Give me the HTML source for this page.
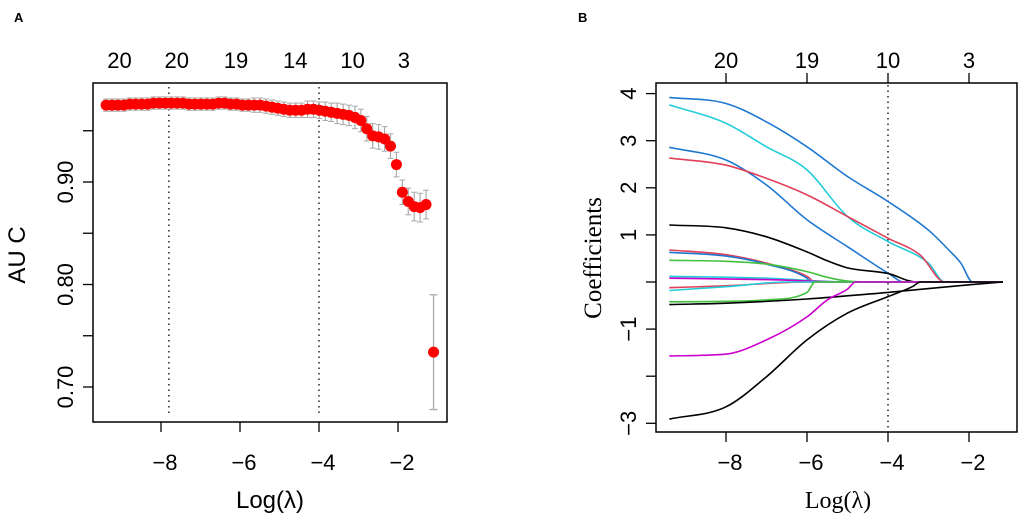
<!DOCTYPE html>
<html><head><meta charset="utf-8"><style>
body{margin:0;background:#fff;}
svg{display:block}
</style></head><body>
<svg id="chart" width="1021" height="522" xmlns="http://www.w3.org/2000/svg">
<text x="14" y="22" font-family="Liberation Sans, sans-serif" font-weight="bold" font-size="13">A</text>
<text x="578" y="22" font-family="Liberation Sans, sans-serif" font-weight="bold" font-size="13">B</text>
<g id="pa"></g>
<g id="pb"></g>
</svg>
<script>
const aucLambda = [];
const aucStart = -9.39, aucStep = 0.15;
const aucValues = [0.975,0.975,0.975,0.975,0.976,0.976,0.976,0.976,0.977,0.977,0.977,
0.977,0.977,0.977,0.976,0.976,0.976,0.976,0.976,0.977,0.977,
0.976,0.976,0.975,0.975,0.975,0.975,0.974,0.973,0.972,0.971,
0.970,0.970,0.970,0.971,0.971,0.970,0.969,0.968,0.967,0.966,
0.965,0.963,0.960,0.952,0.945,0.944,0.942,0.935,0.917,0.890,
0.881,0.876,0.875,0.878];
const aucSE = [0.006,0.006,0.006,0.006,0.006,0.006,0.006,0.006,0.006,0.006,0.006,
0.006,0.006,0.006,0.006,0.006,0.006,0.006,0.006,0.006,0.006,
0.006,0.006,0.006,0.006,0.007,0.007,0.007,0.007,0.007,0.007,
0.007,0.007,0.007,0.008,0.008,0.008,0.009,0.009,0.010,0.010,
0.010,0.011,0.011,0.012,0.012,0.012,0.012,0.012,0.012,0.012,
0.013,0.014,0.014,0.014];
for (let i=0;i<aucValues.length;i++) aucLambda.push(+(aucStart+aucStep*i).toFixed(2));
const outlierLambda = -1.1, outlierAuc = 0.734, outlierLo = 0.678, outlierHi = 0.79;
const aucXTicks = [-8,-6,-4,-2];
const aucYTicks = [0.70,0.80,0.90];
const aucYMinor = [0.75,0.85,0.95];
const aucTopLabels = ["20","20","19","14","10","3"];
const aucTopLambda = [-9.05,-7.6,-6.1,-4.6,-3.15,-1.85];
const aucVLines = [-7.8,-4.0];

const coefPaths = [
 {c:"#1f78d0", x:[-9.4,-8,-7,-6,-5,-4,-3,-2.5,-2.2,-1.91,-1.16], y:[3.92,3.79,3.4,2.87,2.24,1.71,1.10,0.68,0.4,0,0]},
 {c:"#22ccd8", x:[-9.4,-8,-7,-6,-5,-4,-3,-2.6,-1.16], y:[3.76,3.37,2.87,2.38,1.39,0.86,0.40,0,0]},
 {c:"#1f78d0", x:[-9.4,-8,-7,-6,-5,-4,-3.6,-1.16], y:[2.86,2.59,2.06,1.32,0.75,0.19,0,0]},
 {c:"#e0405a", x:[-9.4,-8,-7,-6,-5,-4,-3.2,-2.6,-1.16], y:[2.63,2.48,2.2,1.85,1.39,0.93,0.57,0,0]},
 {c:"#000000", x:[-9.4,-8,-7,-6,-5.5,-5,-4,-3.3,-1.16], y:[1.21,1.15,0.96,0.64,0.45,0.30,0.18,0,0]},
 {c:"#e0405a", x:[-9.4,-8,-7,-6,-5.8,-1.16], y:[0.68,0.58,0.4,0.12,0,0]},
 {c:"#1f78d0", x:[-9.4,-8,-7,-6,-5.9,-1.16], y:[0.63,0.55,0.38,0.08,0,0]},
 {c:"#44c040", x:[-9.4,-8,-7,-6,-5.5,-5,-4.5,-1.16], y:[0.46,0.44,0.38,0.22,0.1,0.02,0,0]},
 {c:"#22ccd8", x:[-9.4,-7,-5,-1.16], y:[0.12,0.08,0,0]},
 {c:"#cc00cc", x:[-9.4,-7,-5,-1.16], y:[0.08,0.05,0,0]},
 {c:"#e0405a", x:[-9.4,-8,-6,-1.16], y:[-0.12,-0.08,0,0]},
 {c:"#22ccd8", x:[-9.4,-8,-6.5,-1.16], y:[-0.18,-0.1,0,0]},
 {c:"#44c040", x:[-9.4,-8,-7,-6,-5.8,-1.16], y:[-0.42,-0.41,-0.38,-0.22,0,0]},
 {c:"#000000", x:[-9.4,-8,-6,-4,-2,-1.16], y:[-0.48,-0.45,-0.36,-0.22,-0.06,0]},
 {c:"#cc00cc", x:[-9.4,-8,-7,-6,-5.5,-5,-4.8,-1.16], y:[-1.57,-1.53,-1.23,-0.74,-0.38,-0.15,0,0]},
 {c:"#000000", x:[-9.4,-8,-7,-6,-5,-4,-3.4,-3.2,-1.16], y:[-2.91,-2.65,-2.01,-1.23,-0.66,-0.31,-0.1,0,0]}
];
const coefXTicks = [-8,-6,-4,-2];
const coefYTicks = [4,3,2,1,0,-1,-2,-3];
const coefYLabels = ["4","3","2","1","","−1","","−3"];
const coefTopLabels = ["20","19","10","3"];
const coefTopLambda = [-8,-6,-4,-2];

const NS="http://www.w3.org/2000/svg";
function mk(parent,tag,attrs,name){const e=document.createElementNS(NS,tag);for(const k in attrs)e.setAttribute(k,attrs[k]);


parent.appendChild(e);return e;}

// Panel A
const pa=document.getElementById('pa');
const ax=v=>161+(v+8)*39.5;
const ay=v=>387-(v-0.70)*1025;
const sansA='Liberation Sans, DejaVu Sans, sans-serif';
aucVLines.forEach(v=>mk(pa,'line',{x1:ax(v),x2:ax(v),y1:87,y2:416,stroke:'#000','stroke-width':1.3,'stroke-dasharray':'1.5,4'},'reference-line'));
aucLambda.forEach((l,i)=>{
 const x=ax(l);
 mk(pa,'line',{x1:x,x2:x,y1:ay(aucValues[i]+aucSE[i]),y2:ay(aucValues[i]-aucSE[i]),stroke:'#aaa','stroke-width':1.2},'error-bar');
 mk(pa,'line',{x1:x-3,x2:x+3,y1:ay(aucValues[i]+aucSE[i]),y2:ay(aucValues[i]+aucSE[i]),stroke:'#aaa','stroke-width':1},'error-cap');
 mk(pa,'line',{x1:x-3,x2:x+3,y1:ay(aucValues[i]-aucSE[i]),y2:ay(aucValues[i]-aucSE[i]),stroke:'#aaa','stroke-width':1},'error-cap');
});
{const x=ax(outlierLambda);
 mk(pa,'line',{x1:x,x2:x,y1:ay(outlierHi),y2:ay(outlierLo),stroke:'#aaa','stroke-width':1.3},'error-bar');
 mk(pa,'line',{x1:x-4,x2:x+4,y1:ay(outlierHi),y2:ay(outlierHi),stroke:'#aaa','stroke-width':1.3},'error-cap');
 mk(pa,'line',{x1:x-4,x2:x+4,y1:ay(outlierLo),y2:ay(outlierLo),stroke:'#aaa','stroke-width':1.3},'error-cap');}
aucLambda.forEach((l,i)=>mk(pa,'circle',{cx:ax(l),cy:ay(aucValues[i]),r:5.5,fill:'#ff0000'},'auc-point'));
mk(pa,'circle',{cx:ax(outlierLambda),cy:ay(outlierAuc),r:5.5,fill:'#ff0000'},'auc-point');
mk(pa,'rect',{x:93,y:83,width:354,height:339,fill:'none',stroke:'#000','stroke-width':1.5},'plot-frame');
aucXTicks.forEach(v=>{mk(pa,'line',{x1:ax(v),x2:ax(v),y1:422,y2:432,stroke:'#000','stroke-width':1.3},'x-tick');
 const t=mk(pa,'text',{x:ax(v)+4,y:470,'text-anchor':'middle','font-family':sansA,'font-size':22},'x-tick-label');t.textContent='−'+Math.abs(v);});
aucYTicks.concat(aucYMinor).forEach(v=>mk(pa,'line',{x1:83,x2:93,y1:ay(v),y2:ay(v),stroke:'#000','stroke-width':1.3},'y-tick'));
aucYTicks.forEach(v=>{const t=mk(pa,'text',{x:0,y:0,'text-anchor':'middle','font-family':sansA,'font-size':22,transform:`translate(73,${ay(v)}) rotate(-90)`},'y-tick-label');t.textContent=v.toFixed(2);});
aucTopLabels.forEach((s,i)=>{const t=mk(pa,'text',{x:ax(aucTopLambda[i]),y:68,'text-anchor':'middle','font-family':sansA,'font-size':22},'top-count-label');t.textContent=s;});
{const t=mk(pa,'text',{x:0,y:0,'text-anchor':'middle','font-family':sansA,'font-size':24,transform:'translate(25,255) rotate(-90)'},'y-axis-title');t.textContent='AU C';}
{const t=mk(pa,'text',{x:270,y:508,'text-anchor':'middle','font-family':sansA,'font-size':24},'x-axis-title');t.textContent='Log(λ)';}

// Panel B
const pb=document.getElementById('pb');
const bx=v=>726+(v+8)*40.5;
const by=v=>282-v*47.1;
const serif='Liberation Serif, DejaVu Serif, serif';
// monotone cubic (Fritsch-Carlson) in x
function monoPath(P){
 const n=P.length, dx=[], s=[], m=new Array(n);
 for(let i=0;i<n-1;i++){dx.push(P[i+1][0]-P[i][0]);s.push((P[i+1][1]-P[i][1])/dx[i]);}
 m[0]=s[0]; m[n-1]=s[n-2];
 for(let i=1;i<n-1;i++){ m[i]=(s[i-1]*s[i]<=0)?0:(s[i-1]+s[i])/2; }
 for(let i=0;i<n-1;i++){
  if(s[i]===0){m[i]=0;m[i+1]=0;continue;}
  const a=m[i]/s[i],b=m[i+1]/s[i],h=a*a+b*b;
  if(h>9){const t=3/Math.sqrt(h);m[i]=t*a*s[i];m[i+1]=t*b*s[i];}
 }
 let d='M'+P[0][0].toFixed(1)+','+P[0][1].toFixed(1);
 for(let i=0;i<n-1;i++){
  const h=dx[i]/3;
  d+=' C'+(P[i][0]+h).toFixed(1)+','+(P[i][1]+m[i]*h).toFixed(1)+' '+(P[i+1][0]-h).toFixed(1)+','+(P[i+1][1]-m[i+1]*h).toFixed(1)+' '+P[i+1][0].toFixed(1)+','+P[i+1][1].toFixed(1);
 }
 return d;
}
mk(pb,'line',{x1:bx(-4),x2:bx(-4),y1:85,y2:430,stroke:'#000','stroke-width':1.3,'stroke-dasharray':'1.5,4'},'reference-line');
coefPaths.forEach(p=>{
 const P=p.x.map((x,i)=>[bx(x),by(p.y[i])]);
 mk(pb,'path',{d:monoPath(P),fill:'none',stroke:p.c,'stroke-width':1.6,'stroke-linejoin':'round'},'coefficient-path');
});
mk(pb,'rect',{x:656,y:83,width:361,height:349,fill:'none',stroke:'#000','stroke-width':1.5},'plot-frame');
coefXTicks.forEach(v=>{mk(pb,'line',{x1:bx(v),x2:bx(v),y1:432,y2:442,stroke:'#000','stroke-width':1.3},'x-tick');
 const t=mk(pb,'text',{x:bx(v)+4,y:470,'text-anchor':'middle','font-family':sansA,'font-size':22},'x-tick-label');t.textContent='−'+Math.abs(v);});
coefTopLambda.forEach((v,i)=>{mk(pb,'line',{x1:bx(v),x2:bx(v),y1:73,y2:83,stroke:'#000','stroke-width':1.3},'top-tick');
 const t=mk(pb,'text',{x:bx(v),y:68,'text-anchor':'middle','font-family':sansA,'font-size':22},'top-count-label');t.textContent=coefTopLabels[i];});
coefYTicks.forEach((v,i)=>{mk(pb,'line',{x1:646,x2:656,y1:by(v),y2:by(v),stroke:'#000','stroke-width':1.3},'y-tick');
 if(coefYLabels[i]){const t=mk(pb,'text',{x:0,y:0,'text-anchor':'middle','font-family':sansA,'font-size':22,transform:`translate(636,${by(v)}) rotate(-90)`},'y-tick-label');t.textContent=coefYLabels[i];}});
{const t=mk(pb,'text',{x:0,y:0,'text-anchor':'middle','font-family':serif,'font-size':25,transform:'translate(601,258) rotate(-90)'},'y-axis-title');t.textContent='Coefficients';}
{const t=mk(pb,'text',{x:838,y:508,'text-anchor':'middle','font-family':serif,'font-size':24},'x-axis-title');t.textContent='Log(λ)';}
</script>
</body></html>
